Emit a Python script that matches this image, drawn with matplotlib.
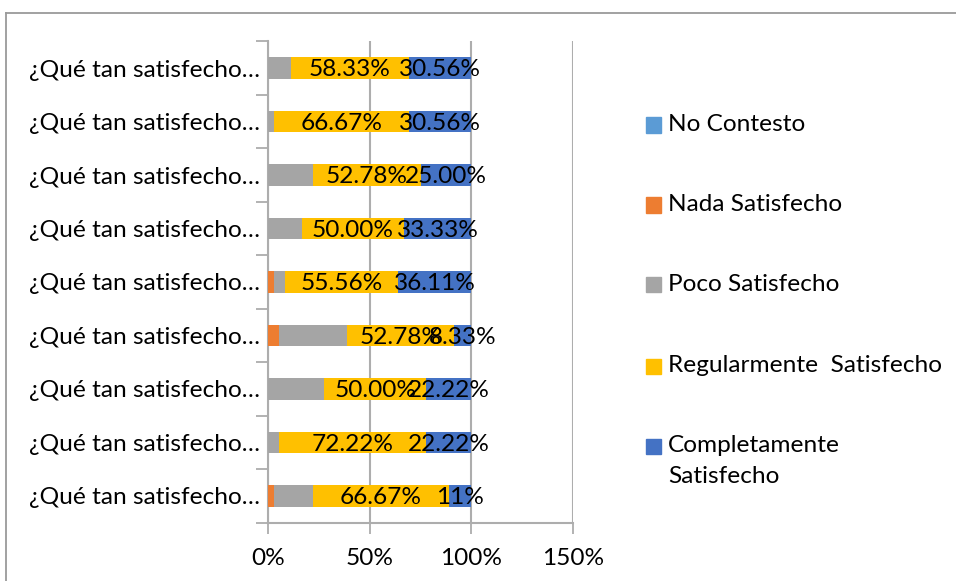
import numpy as np
import matplotlib.pyplot as plt
from matplotlib.patches import Rectangle

plt.rcParams['font.family'] = ['Lato', 'DejaVu Sans']

# categories, top to bottom as shown
categorias = ['¿Qué tan satisfecho…'] * 9

series = ['No Contesto', 'Nada Satisfecho', 'Poco Satisfecho',
          'Regularmente  Satisfecho', 'Completamente\nSatisfecho']
colores = ['#5B9BD5', '#ED7D31', '#A5A5A5', '#FFC000', '#4472C4']

no_contesto = [0, 0, 0, 0, 0, 0, 0, 0, 0]
nada = [0, 0, 0, 0, 2.78, 5.56, 0, 0, 2.78]
poco = [11.11, 2.78, 22.22, 16.67, 5.56, 33.33, 27.78, 5.56, 19.44]
regular = [58.33, 66.67, 52.78, 50.00, 55.56, 52.78, 50.00, 72.22, 66.67]
completo = [30.56, 30.56, 25.00, 33.33, 36.11, 8.33, 22.22, 22.22, 11.11]
completo_etiquetas = ['30.56%', '30.56%', '25.00%', '33.33%', '36.11%',
                      '8.33%', '22.22%', '22.22%', '11%']

xticks = [0, 50, 100, 150]
xtick_labels = ['0%', '50%', '100%', '150%']

W, H = 956, 581
fig = plt.figure(figsize=(W / 100, H / 100), dpi=100)
ax = fig.add_axes([268 / W, 1 - 522.7 / H, 305 / W, (522.7 - 41.3) / H])

grid_c = '#ADADAD'
fsize = 17.6
px = fsize * 100 / 72

y = np.arange(len(categorias))
datos = [no_contesto, nada, poco, regular, completo]
left = np.zeros(len(categorias))
for vals, col in zip(datos, colores):
    vals = np.array(vals, dtype=float)
    ax.barh(y, vals, left=left, height=0.4, color=col, zorder=3)
    left += vals

# data labels for Regularmente and Completamente
base_reg = np.array(nada) + np.array(poco)
for i in range(len(y)):
    ax.text(base_reg[i] + regular[i] / 2, y[i] + 0.03, '%.2f%%' % regular[i],
            ha='center', va='center', fontsize=fsize, color='black', zorder=4)
    ax.text(base_reg[i] + regular[i] + completo[i] / 2, y[i] + 0.03, completo_etiquetas[i],
            ha='center', va='center', fontsize=fsize, color='black', zorder=4)

ax.set_xlim(0, 150)
ax.set_ylim(len(y) - 0.5, -0.5)
ax.set_xticks(xticks)
ax.set_xticklabels(xtick_labels, fontsize=fsize)
ax.set_yticks(y)
ax.set_yticklabels(categorias, fontsize=fsize)
ax.set_yticks(np.arange(-0.5, len(y)), minor=True)
ax.tick_params(axis='y', which='major', length=0, pad=6)
ax.tick_params(axis='y', which='minor', length=9, width=1.3, color=grid_c, direction='out')
ax.tick_params(axis='x', length=8, width=1.3, color=grid_c, direction='out', pad=10)

ax.grid(axis='x', color=grid_c, linewidth=1.5, zorder=0)
for s in ['top', 'right']:
    ax.spines[s].set_visible(False)
for s in ['left', 'bottom']:
    ax.spines[s].set_color(grid_c)
    ax.spines[s].set_linewidth(1.5)

# legend drawn at fixed spots to the right
leg_y = [125, 205, 285, 366, 446]
for name, col, yy in zip(series, colores, leg_y):
    fig.patches.append(Rectangle((646 / W, 1 - (yy + 7.5) / H), 15 / W, 15 / H,
                                 transform=fig.transFigure, color=col))
    fig.text(668 / W, 1 - (yy - 0.47 * px) / H, name, ha='left', va='top',
             fontsize=fsize, linespacing=1.62)

# outer chart border (partly cropped)
fig.add_artist(plt.Line2D([6 / W, 6 / W], [0, 1 - 13 / H], transform=fig.transFigure,
                          color='#9A9A9A', linewidth=1.3))
fig.add_artist(plt.Line2D([6 / W, 1], [1 - 13 / H, 1 - 13 / H], transform=fig.transFigure,
                          color='#9A9A9A', linewidth=1.3))

fig.savefig('out.png', dpi=100)
